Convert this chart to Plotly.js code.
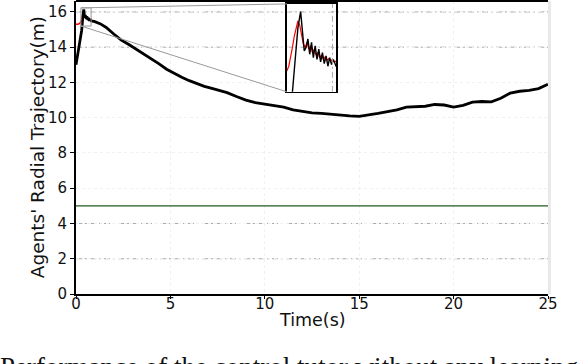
<!DOCTYPE html>
<html>
<head>
<meta charset="UTF-8">
<script src="https://cdn.plot.ly/plotly-3.0.1.min.js"></script>
<style>
  body { margin: 0; background: #fff; }
  #chart { width: 588px; height: 364px; }
</style>
</head>
<body>
<div id="chart"></div>
<script>
// agent trajectory (black)
var timeS = [0, 0.1, 0.2, 0.3, 0.34, 0.38, 0.41, 0.43, 0.45, 0.47, 0.49, 0.51, 0.53, 0.55, 0.57, 0.59,
  0.61, 0.63, 0.65, 0.67, 0.69, 0.71, 0.73, 0.75, 0.77, 0.8, 1.0, 1.3, 1.6, 2.0, 2.4, 2.8, 3.2, 3.6,
  4.0, 4.4, 4.8, 5.2, 5.6, 6.0, 6.4, 6.8, 7.2, 7.6, 8.0, 8.5, 9.0, 9.5, 10.0, 10.5, 11.0, 11.5, 12.0,
  12.5, 13.0, 13.5, 14.0, 14.5, 15.0, 15.5, 16.0, 16.5, 17.0, 17.5, 18.0, 18.5, 19.0, 19.5, 20.0,
  20.5, 21.0, 21.5, 22.0, 22.5, 23.0, 23.5, 24.0, 24.5, 25.0];
var radius = [13.0, 13.6, 14.2, 14.95, 15.45, 15.95, 16.14, 15.95, 15.68, 15.72, 15.82, 15.64, 15.78,
  15.6, 15.74, 15.58, 15.7, 15.55, 15.66, 15.53, 15.62, 15.5, 15.6, 15.52, 15.58, 15.5, 15.45, 15.32,
  15.12, 14.75, 14.4, 14.15, 13.88, 13.6, 13.3, 13.05, 12.75, 12.5, 12.3, 12.1, 11.92, 11.78, 11.66,
  11.52, 11.42, 11.2, 11.0, 10.85, 10.78, 10.7, 10.6, 10.45, 10.35, 10.27, 10.25, 10.2, 10.12, 10.1,
  10.08, 10.15, 10.25, 10.35, 10.45, 10.6, 10.62, 10.65, 10.75, 10.72, 10.6, 10.7, 10.88, 10.92,
  10.9, 11.1, 11.4, 11.5, 11.55, 11.65, 11.9];

// reference trajectory (red)
var refTime = [0, 0.1, 0.2, 0.26, 0.28, 0.3, 0.32, 0.34, 0.36, 0.38, 0.4, 0.42, 0.44, 0.46, 0.48,
  0.5, 0.52, 0.54, 0.56, 0.58, 0.6, 0.62, 0.64, 0.66, 0.68, 0.7, 0.72, 0.74, 0.76, 0.78, 0.8];
var refRadius = [15.3, 15.3, 15.35, 15.45, 15.5, 15.6, 15.72, 15.85, 15.96, 16.03, 15.98, 15.85,
  15.76, 15.72, 15.78, 15.7, 15.74, 15.66, 15.7, 15.63, 15.66, 15.6, 15.63, 15.58, 15.61, 15.57,
  15.59, 15.56, 15.58, 15.55, 15.56];

var limitRadius = 5;
var xTicks = [0, 5, 10, 15, 20, 25];
var yTicks = [0, 2, 4, 6, 8, 10, 12, 14, 16];
var dashedY = [2, 4, 14, 16];
var zoomX = [0.26, 0.8];
var zoomY = [15.2, 16.23];

var xRange = [0, 25];
var yRange = [0, 16.62];
var insetDomX = [0.447, 0.551];
var insetDomY = [0.69, 0.99];

var traces = [
  { x: refTime, y: refRadius, mode: 'lines', line: { color: 'red', width: 1.5 }, xaxis: 'x', yaxis: 'y' },
  { x: timeS, y: radius, mode: 'lines', line: { color: 'black', width: 2.8 }, xaxis: 'x', yaxis: 'y' },
  { x: refTime, y: refRadius, mode: 'lines', line: { color: 'red', width: 1.2 }, xaxis: 'x2', yaxis: 'y2' },
  { x: timeS, y: radius, mode: 'lines', line: { color: 'black', width: 1.4 }, xaxis: 'x2', yaxis: 'y2' }
];

var shapes = [];
dashedY.forEach(function (v) {
  shapes.push({ type: 'line', xref: 'paper', yref: 'y', x0: 0, x1: 1, y0: v, y1: v,
    line: { color: '#aaaaaa', width: 1, dash: '6px,3px,2px,3px' }, layer: 'below' });
});
// limit line
shapes.push({ type: 'line', xref: 'paper', yref: 'y', x0: 0, x1: 1, y0: limitRadius, y1: limitRadius,
  line: { color: '#1f5a1f', width: 1.2 } });
// right edge and top border
shapes.push({ type: 'line', xref: 'paper', yref: 'paper', x0: 1.003, x1: 1.003, y0: 0, y1: 1,
  line: { color: '#e8e8e8', width: 3 } });
shapes.push({ type: 'line', xref: 'paper', yref: 'paper', x0: 0, x1: 1, y0: 1, y1: 1,
  line: { color: 'black', width: 2 } });
// zoom rectangle
shapes.push({ type: 'rect', xref: 'x', yref: 'y', x0: zoomX[0], x1: zoomX[1], y0: zoomY[0], y1: zoomY[1],
  line: { color: '#999999', width: 1 } });
// connectors to inset corners
var cx = xRange[0] + insetDomX[0] * (xRange[1] - xRange[0]);
var cyTop = yRange[0] + insetDomY[1] * (yRange[1] - yRange[0]);
var cyBot = yRange[0] + insetDomY[0] * (yRange[1] - yRange[0]);
shapes.push({ type: 'line', xref: 'x', yref: 'y', x0: zoomX[0], y0: zoomY[1], x1: cx, y1: cyTop,
  line: { color: '#999999', width: 1 } });
shapes.push({ type: 'line', xref: 'x', yref: 'y', x0: zoomX[0], y0: zoomY[0], x1: cx, y1: cyBot,
  line: { color: '#999999', width: 1 } });
// inset dashed vertical
shapes.push({ type: 'line', xref: 'x2', yref: 'y2', x0: 0.76, x1: 0.76, y0: zoomY[0], y1: zoomY[1],
  line: { color: '#aaaaaa', width: 1, dash: '6px,3px,2px,3px' } });

var tickFont = { family: 'DejaVu Sans', size: 15, color: '#111' };
var titleFont = { family: 'DejaVu Sans', size: 17.5, color: '#111' };

var layout = {
  width: 588, height: 364,
  margin: { l: 76, r: 40, t: 1, b: 70 },
  paper_bgcolor: 'white', plot_bgcolor: 'rgba(0,0,0,0)',
  showlegend: false,
  font: { family: 'DejaVu Sans', color: '#111' },
  xaxis: {
    range: xRange, tickvals: xTicks, ticks: 'outside', ticklen: 3, tickcolor: 'black',
    showline: true, linecolor: 'black', linewidth: 2, zeroline: false,
    showgrid: true, gridcolor: '#f0f0f0', griddash: 'dot',
    tickfont: tickFont, ticklabelstandoff: -8
  },
  yaxis: {
    range: yRange, tickvals: yTicks, ticks: 'outside', ticklen: 4, tickcolor: 'black',
    showline: true, linecolor: 'black', linewidth: 2, zeroline: false,
    showgrid: true, gridcolor: '#f0f0f0', griddash: 'dot',
    tickfont: tickFont
  },
  xaxis2: {
    domain: insetDomX, anchor: 'y2', range: zoomX, showticklabels: false, ticks: '',
    showline: true, mirror: true, linecolor: 'black', linewidth: 1.5, showgrid: false, zeroline: false
  },
  yaxis2: {
    domain: insetDomY, anchor: 'x2', range: zoomY, showticklabels: false, ticks: '',
    showline: true, mirror: true, linecolor: 'black', linewidth: 1.5, showgrid: false, zeroline: false
  },
  shapes: shapes,
  annotations: [
    { xref: 'paper', yref: 'paper', x: 0.5, y: -0.089, xanchor: 'center', yanchor: 'middle',
      text: 'Time(s)', showarrow: false, font: titleFont },
    { xref: 'paper', yref: 'paper', x: -0.081, y: 0.5, xanchor: 'center', yanchor: 'middle',
      text: "Agents' Radial Trajectory(m)", textangle: -90, showarrow: false,
      font: { family: 'DejaVu Sans', size: 18.5, color: '#111' } },
    { xref: 'paper', yref: 'paper', x: -0.165, y: -0.19, xanchor: 'left', yanchor: 'top',
      text: 'Performance of the control tutor without any learning', showarrow: false,
      font: { family: 'Liberation Serif', size: 27, color: '#111' } }
  ]
};

Plotly.newPlot('chart', traces, layout, { staticPlot: true });
</script>
</body>
</html>
